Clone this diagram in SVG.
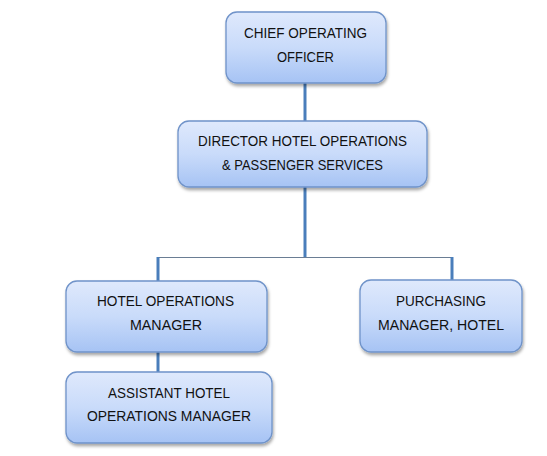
<svg xmlns="http://www.w3.org/2000/svg" width="547" height="456" viewBox="0 0 547 456">
<defs>
<linearGradient id="g" x1="0" y1="0" x2="0" y2="1">
<stop offset="0" stop-color="#dfe9fc"/>
<stop offset="0.5" stop-color="#c9dbfa"/>
<stop offset="1" stop-color="#a6c3f4"/>
</linearGradient>
<filter id="sh" x="-10%" y="-10%" width="120%" height="130%">
<feDropShadow dx="1" dy="2.5" stdDeviation="1.5" flood-color="#000" flood-opacity="0.35"/>
</filter>
</defs>
<style>
.box{fill:url(#g);stroke:#6f93c9;stroke-width:1.3;filter:url(#sh)}
.t{font-family:"Liberation Sans",Arial,sans-serif;font-size:15px;fill:#111;text-anchor:middle}
.c{stroke:#4a7ebb;stroke-width:3;fill:none}
.h{stroke:#6a7d94;stroke-width:1.2;fill:none}
</style>
<rect width="547" height="456" fill="#fff"/>
<g id="connectors">
<line class="c" x1="305" y1="83" x2="305" y2="121"/>
<line class="c" x1="305" y1="187" x2="305" y2="258"/>
<line class="h" x1="157" y1="257.5" x2="453" y2="257.5"/>
<line class="c" x1="158" y1="257" x2="158" y2="281"/>
<line class="c" x1="452" y1="257" x2="452" y2="280"/>
<line class="c" x1="158" y1="352" x2="158" y2="372"/>
</g>
<g id="coo">
<rect class="box" x="226" y="12" width="160" height="71" rx="11"/>
<text class="t" x="305.5" y="38" textLength="123" lengthAdjust="spacingAndGlyphs">CHIEF OPERATING</text>
<text class="t" x="305.5" y="62" textLength="57" lengthAdjust="spacingAndGlyphs">OFFICER</text>
</g>
<g id="director">
<rect class="box" x="178" y="121" width="249" height="66" rx="11"/>
<text class="t" x="302.5" y="146" textLength="209" lengthAdjust="spacingAndGlyphs">DIRECTOR HOTEL OPERATIONS</text>
<text class="t" x="302.5" y="170" textLength="161" lengthAdjust="spacingAndGlyphs">&amp; PASSENGER SERVICES</text>
</g>
<g id="hom">
<rect class="box" x="66" y="281" width="201" height="71" rx="11"/>
<text class="t" x="165.5" y="306" textLength="137" lengthAdjust="spacingAndGlyphs">HOTEL OPERATIONS</text>
<text class="t" x="166" y="330" textLength="72" lengthAdjust="spacingAndGlyphs">MANAGER</text>
</g>
<g id="purchasing">
<rect class="box" x="360" y="280" width="162" height="72" rx="11"/>
<text class="t" x="441" y="306" textLength="90" lengthAdjust="spacingAndGlyphs">PURCHASING</text>
<text class="t" x="441" y="330" textLength="126" lengthAdjust="spacingAndGlyphs">MANAGER, HOTEL</text>
</g>
<g id="assistant">
<rect class="box" x="66" y="372" width="206" height="71" rx="11"/>
<text class="t" x="169" y="398" textLength="122" lengthAdjust="spacingAndGlyphs">ASSISTANT HOTEL</text>
<text class="t" x="169" y="421" textLength="164" lengthAdjust="spacingAndGlyphs">OPERATIONS MANAGER</text>
</g>
</svg>
